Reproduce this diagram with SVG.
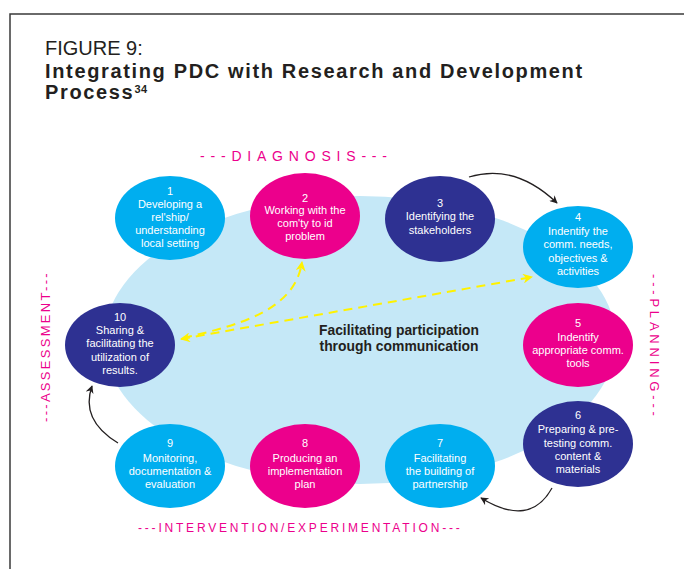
<svg xmlns="http://www.w3.org/2000/svg" width="684" height="569" viewBox="0 0 684 569">
<style>
.nt{font-family:"Liberation Sans",Arial,sans-serif;font-size:11px;fill:#fff;text-anchor:middle}
.lbl{font-family:"Liberation Sans",Arial,sans-serif;fill:#EC008C}
.cyan{fill:#00AEEF}.mag{fill:#EC008C}.navy{fill:#2E3192}
.blk{fill:none;stroke:#231F20;stroke-width:1.3}
.yl{fill:none;stroke:#FFF200;stroke-width:2;stroke-dasharray:9 6}
</style>
<defs>
<marker id="ab" viewBox="0 0 10 10" refX="9" refY="5" markerWidth="10" markerHeight="8" markerUnits="userSpaceOnUse" orient="auto"><path d="M0,0 L10,5 L0,10 L3,5 Z" fill="#231F20"/></marker>
<marker id="ay" viewBox="0 0 10 10" refX="9" refY="5" markerWidth="12" markerHeight="10" markerUnits="userSpaceOnUse" orient="auto-start-reverse"><path d="M0,0 L10,5 L0,10 L3,5 Z" fill="#FFF200"/></marker>
</defs>
<rect width="684" height="569" fill="#fff"/>
<path d="M10,569 L10,14 L684,14" fill="none" stroke="#3a3a3a" stroke-width="1.5"/>
<g id="title" font-family="'Liberation Sans',Arial,sans-serif" fill="#231F20">
<text x="45" y="55" font-size="20">FIGURE 9:</text>
<text x="45" y="78" font-size="20" font-weight="bold" letter-spacing="1.65">Integrating PDC with Research and Development</text>
<text x="45" y="99" font-size="20" font-weight="bold" letter-spacing="1.65">Process<tspan font-size="11" dy="-6" letter-spacing="0.5">34</tspan></text>
</g>
<ellipse id="core" cx="360" cy="340" rx="256" ry="144" fill="#C5E8F7"/>
<g id="labels">
<text class="lbl" x="200" y="161" font-size="14" letter-spacing="5.8">---DIAGNOSIS---</text>
<text class="lbl" x="138" y="532" font-size="12" letter-spacing="2.8">---INTERVENTION/EXPERIMENTATION---</text>
<text class="lbl" font-size="13" letter-spacing="2.3" transform="translate(50,422) rotate(-90)">---ASSESSMENT---</text>
<text class="lbl" font-size="13" letter-spacing="3.8" transform="translate(650,274) rotate(90)">---PLANNING---</text>
<text x="399" y="335" font-family="'Liberation Sans',Arial,sans-serif" font-size="15" font-weight="bold" fill="#231F20" text-anchor="middle" textLength="160" lengthAdjust="spacingAndGlyphs">Facilitating participation</text>
<text x="399" y="351" font-family="'Liberation Sans',Arial,sans-serif" font-size="15" font-weight="bold" fill="#231F20" text-anchor="middle" textLength="159" lengthAdjust="spacingAndGlyphs">through communication</text>
</g>
<g id="n1"><ellipse class="cyan" cx="170" cy="218" rx="55" ry="42"/>
<text class="nt" x="170" y="195">1</text><text class="nt" x="170" y="208">Developing a</text><text class="nt" x="170" y="221">rel'ship/</text><text class="nt" x="170" y="234">understanding</text><text class="nt" x="170" y="247">local setting</text></g>
<g id="n2"><ellipse class="mag" cx="305" cy="216" rx="55" ry="43"/>
<text class="nt" x="305" y="202">2</text><text class="nt" x="305" y="214">Working with the</text><text class="nt" x="305" y="227">com'ty to id</text><text class="nt" x="305" y="240">problem</text></g>
<g id="n3"><ellipse class="navy" cx="440" cy="219" rx="55" ry="43"/>
<text class="nt" x="440" y="207">3</text><text class="nt" x="440" y="220">Identifying the</text><text class="nt" x="440" y="234">stakeholders</text></g>
<g id="n4"><ellipse class="cyan" cx="578" cy="247" rx="55" ry="41"/>
<text class="nt" x="578" y="221">4</text><text class="nt" x="578" y="235">Indentify the</text><text class="nt" x="578" y="248">comm. needs,</text><text class="nt" x="578" y="262">objectives &amp;</text><text class="nt" x="578" y="275">activities</text></g>
<g id="n5"><ellipse class="mag" cx="578" cy="345" rx="55" ry="42"/>
<text class="nt" x="578" y="327">5</text><text class="nt" x="578" y="341">Indentify</text><text class="nt" x="578" y="354">appropriate comm.</text><text class="nt" x="578" y="367">tools</text></g>
<g id="n6"><ellipse class="navy" cx="578" cy="444" rx="55" ry="43"/>
<text class="nt" x="578" y="419">6</text><text class="nt" x="578" y="433">Preparing &amp; pre-</text><text class="nt" x="578" y="447">testing comm.</text><text class="nt" x="578" y="460">content &amp;</text><text class="nt" x="578" y="473">materials</text></g>
<g id="n7"><ellipse class="cyan" cx="440" cy="466" rx="55" ry="42"/>
<text class="nt" x="440" y="447">7</text><text class="nt" x="440" y="462">Facilitating</text><text class="nt" x="440" y="475">the building of</text><text class="nt" x="440" y="488">partnership</text></g>
<g id="n8"><ellipse class="mag" cx="305" cy="466" rx="55" ry="42"/>
<text class="nt" x="305" y="447">8</text><text class="nt" x="305" y="462">Producing an</text><text class="nt" x="305" y="475">implementation</text><text class="nt" x="305" y="488">plan</text></g>
<g id="n9"><ellipse class="cyan" cx="170" cy="466" rx="55" ry="42"/>
<text class="nt" x="170" y="447">9</text><text class="nt" x="170" y="462">Monitoring,</text><text class="nt" x="170" y="475">documentation &amp;</text><text class="nt" x="170" y="488">evaluation</text></g>
<g id="n10"><ellipse class="navy" cx="120" cy="345" rx="55" ry="42"/>
<text class="nt" x="120" y="321">10</text><text class="nt" x="120" y="334">Sharing &amp;</text><text class="nt" x="120" y="347">facilitating the</text><text class="nt" x="120" y="361">utilization of</text><text class="nt" x="120" y="374">results.</text></g>
<g id="connectors">
<path class="blk" d="M469,177 Q515,163 557,203" marker-end="url(#ab)"/>
<path class="blk" d="M552,488 Q530,528 481,498" marker-end="url(#ab)"/>
<path class="blk" d="M118,443 Q80,420 92,386" marker-end="url(#ab)"/>
<path class="yl" d="M181,339 L532,277" marker-start="url(#ay)" marker-end="url(#ay)"/>
<path class="yl" d="M183,338 C240,325 295,310 302,262" marker-end="url(#ay)"/>
</g>
</svg>
